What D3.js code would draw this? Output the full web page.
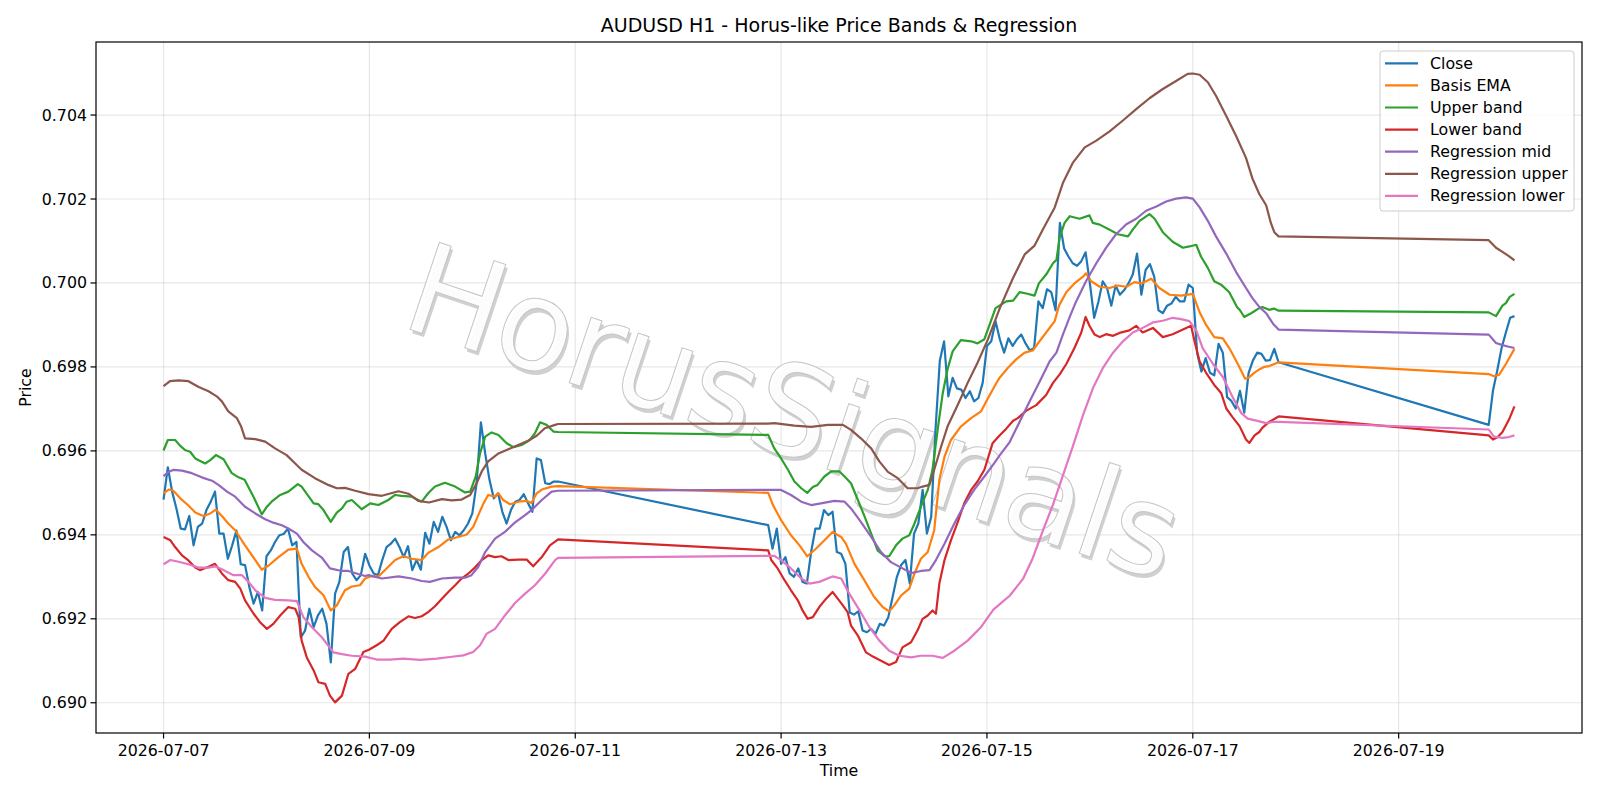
<!DOCTYPE html>
<html>
<head>
<meta charset="utf-8">
<script src="https://cdn.jsdelivr.net/npm/d3@7/dist/d3.min.js"></script>
<style>
  body { margin: 0; background: #fff; }
  svg { font-family: "DejaVu Sans", sans-serif; }
</style>
</head>
<body>
<svg id="chart" width="1600" height="800"></svg>
<script>
// hourly bars, hours counted from 2026-07-07 00:00 UTC
const startTime = Date.UTC(2026, 6, 7, 0, 0);

// Close, three trading blocks (start hour + hourly closes)
const closeStart1 = 0;
const closeSeg1 = [0.69484,0.69561,0.69503,0.69463,0.69415,0.69413,0.69445,0.69375,0.69419,0.69427,
  0.69459,0.69479,0.69503,0.69403,0.69403,0.69343,0.69375,0.69410,0.69330,0.69328,
  0.69276,0.69236,0.69264,0.69220,0.69349,0.69363,0.69383,0.69399,0.69402,0.69415,
  0.69375,0.69383,0.69156,0.69172,0.69224,0.69180,0.69208,0.69224,0.69188,0.69096,
  0.69260,0.69288,0.69359,0.69371,0.69308,0.69292,0.69304,0.69355,0.69327,0.69308,
  0.69304,0.69340,0.69371,0.69379,0.69391,0.69371,0.69347,0.69373,0.69316,0.69340,
  0.69317,0.69405,0.69379,0.69431,0.69407,0.69443,0.69419,0.69387,0.69407,0.69399,
  0.69411,0.69427,0.69451,0.69523,0.69668,0.69594,0.69531,0.69487,0.69499,0.69455,
  0.69427,0.69459,0.69479,0.69483,0.69497,0.69475,0.69455,0.69582,0.69578,0.69523,
  0.69521,0.69527,0.69527];
const closeStart2 = 141;
const closeSeg2 = [0.69423,0.69367,0.69415,0.69331,0.69347,0.69308,0.69300,0.69320,0.69288,0.69284,
  0.69359,0.69415,0.69415,0.69459,0.69447,0.69455,0.69359,0.69355,0.69331,0.69215,
  0.69210,0.69218,0.69172,0.69168,0.69176,0.69164,0.69188,0.69184,0.69204,0.69252,
  0.69300,0.69328,0.69340,0.69284,0.69403,0.69427,0.69507,0.69403,0.69443,0.69650,
  0.69814,0.69861,0.69730,0.69774,0.69749,0.69746,0.69726,0.69742,0.69718,0.69726,
  0.69762,0.69850,0.69861,0.69909,0.69866,0.69834,0.69868,0.69850,0.69866,0.69877,
  0.69856,0.69839,0.69845,0.69956,0.69940,0.69985,0.69978,0.69935,0.70143,0.70082,
  0.70063,0.70047,0.70041,0.70052,0.70073,0.69999,0.69917,0.69956,0.70004,0.69988,
  0.69946,0.69994,0.69972,0.69983,0.69999,0.70020,0.70070,0.69972,0.70031,0.70045,
  0.70015,0.69935,0.69928,0.69946,0.69951,0.69967,0.69956,0.69956,0.69996,0.69988,
  0.69834,0.69789,0.69821,0.69786,0.69780,0.69855,0.69834,0.69728,0.69719,0.69701,
  0.69743,0.69691,0.69785,0.69815,0.69834,0.69831,0.69815,0.69816,0.69843,0.69811];
const closeStart3 = 309;
const closeSeg3 = [0.69662,0.69744,0.69792,0.69845,0.69882,0.69917,0.69921];

// the smoother series, read as [hour, price]
const basisEma = [[0,0.69499],[1.2,0.69508],[2.3,0.69505],[3.9,0.69487],[5.8,0.6947],[7.4,0.69453],[9.3,0.69445],[10.9,0.69451],[12.2,0.6946],[13.6,0.69445],[15.1,0.69427],[16.7,0.69411],[19,0.69375],[21.4,0.6934],[22.9,0.69317],[24.5,0.69327],[26.8,0.69347],[29.1,0.69365],[31.1,0.69367],[32.2,0.69331],[33.8,0.693],[35.3,0.69276],[37.3,0.69256],[39,0.6922],[40.4,0.69232],[42.3,0.69268],[43.9,0.69277],[45.8,0.6928],[47,0.69296],[48.2,0.69301],[50.1,0.69301],[52,0.6932],[54,0.6934],[55.9,0.69349],[57.9,0.69343],[60.2,0.6934],[61.7,0.69357],[64.1,0.69371],[66.4,0.69389],[68.7,0.69395],[70.7,0.69401],[72.2,0.69419],[73.4,0.69447],[74.6,0.69475],[75.7,0.69495],[77.3,0.69491],[78.1,0.69499],[79.2,0.69483],[80.8,0.69473],[82.7,0.69479],[84.7,0.69481],[85.8,0.69476],[87,0.69499],[88.2,0.69508],[90.5,0.69515],[92,0.69516],
  [141,0.695],[142.1,0.69471],[144,0.69435],[146.3,0.69399],[148.3,0.69375],[150.1,0.69349],[151.8,0.69364],[153.7,0.69383],[156,0.69407],[158,0.69395],[159.1,0.69379],[161.1,0.69331],[163.4,0.69292],[165.7,0.69252],[167.7,0.69228],[169.2,0.69218],[170.4,0.69232],[172,0.69256],[173.9,0.69272],[175.1,0.69308],[176.6,0.69343],[178.2,0.69359],[179.7,0.69411],[180.9,0.69531],[182.1,0.69586],[183.6,0.69626],[185.9,0.69658],[188.3,0.69678],[190.6,0.69694],[192.2,0.69725],[194.1,0.6976],[195,0.69775],[196.9,0.69798],[198.8,0.69818],[200.8,0.69834],[202.7,0.69839],[203.8,0.69855],[205.8,0.69882],[207.8,0.69909],[208.8,0.69946],[210.5,0.69978],[212.4,0.69999],[214.4,0.70015],[215.1,0.70023],[216.3,0.70004],[218.3,0.69991],[220.6,0.69988],[222.5,0.69994],[224.5,0.69991],[226.4,0.70002],[228,0.69999],[230.3,0.7001],[232.2,0.69988],[234.6,0.69972],[237.3,0.6997],[240,0.69974],[241.6,0.6993],[243.1,0.699],[245,0.69871],[247,0.69868],[248.5,0.69845],[250.5,0.69807],[252.2,0.69772],[253.1,0.69775],[254.3,0.69786],[255.5,0.69794],[256.6,0.698],[257.8,0.69802],[259,0.69807],[260,0.69811],
  [309,0.69783],[310.2,0.69778],[311.4,0.69781],[313,0.69807],[315,0.69843]];

const upperBand = [[0,0.69601],[1,0.69626],[2.7,0.69626],[3.9,0.69612],[5,0.69602],[6.2,0.69598],[7.4,0.69582],[9.7,0.6957],[10.9,0.69578],[12.2,0.6959],[14,0.6958],[15.9,0.69547],[17.5,0.69537],[18.9,0.69531],[21,0.6949],[22.9,0.69449],[24.1,0.69467],[25.2,0.69479],[27.2,0.69495],[29.1,0.69503],[31.3,0.69521],[32.2,0.69515],[35,0.69475],[36.1,0.69473],[37.3,0.69459],[39,0.69431],[40.4,0.69453],[41.6,0.69463],[42.7,0.69479],[43.9,0.69483],[45.6,0.69467],[46.2,0.69461],[48.2,0.69475],[50.1,0.69471],[52.4,0.69483],[54,0.69495],[55.5,0.69493],[57.9,0.69491],[60.2,0.69479],[61.7,0.69499],[63.3,0.69515],[65.6,0.69524],[68,0.69515],[70.3,0.69501],[71.5,0.69503],[72.8,0.69539],[73.8,0.69594],[75,0.69634],[76.5,0.69644],[78.1,0.69638],[80,0.69618],[81.6,0.69609],[83.5,0.69614],[85.4,0.69626],[86.6,0.69642],[87.8,0.69668],[89.3,0.69662],[90.9,0.69646],[92,0.69645],
  [141,0.69638],[142.4,0.69606],[144,0.69582],[145.6,0.69555],[147.1,0.69527],[148.7,0.69511],[150.1,0.695],[151.4,0.69514],[152.5,0.69519],[154.1,0.69539],[155.7,0.69551],[157.6,0.69551],[158.8,0.69539],[160.3,0.69523],[161.9,0.69483],[163.5,0.69443],[165,0.69403],[166.5,0.69363],[168.1,0.69349],[169.2,0.69349],[170.8,0.69375],[172.3,0.69391],[173.9,0.69399],[175.1,0.69427],[176.6,0.69467],[178.2,0.69507],[179.3,0.69555],[180.5,0.6965],[181.7,0.69738],[182.8,0.69794],[184,0.69837],[185.9,0.69864],[188.3,0.69861],[189.8,0.69856],[191.4,0.69866],[192.2,0.69889],[194,0.6994],[196.5,0.69956],[198.1,0.69958],[199.6,0.69978],[201.2,0.69975],[203.1,0.6997],[204.1,0.69999],[205.8,0.7002],[207.4,0.70047],[208.2,0.70055],[209,0.70111],[210.1,0.70143],[211.3,0.70159],[213.6,0.70153],[215.9,0.70161],[216.7,0.70143],[218.3,0.70139],[220.6,0.70127],[222.5,0.70116],[224.9,0.70111],[226,0.70127],[227.6,0.70148],[229.9,0.70164],[231.1,0.70153],[233,0.70121],[235.3,0.70098],[237.7,0.70084],[239.2,0.70087],[240.8,0.70091],[241.9,0.70063],[243.5,0.70036],[245,0.70004],[246.6,0.69996],[248.5,0.69978],[250.3,0.69943],[251,0.69935],[252,0.69919],[253.6,0.69928],[255.5,0.6994],[256.2,0.69943],[257.8,0.69936],[258.9,0.69939],[260,0.69934],
  [309,0.6993],[310.7,0.69921],[312.2,0.69946],[313,0.69952],[313.9,0.69967],[315,0.69974]];

const lowerBand = [[0,0.69395],[1.6,0.69387],[2.7,0.69371],[4.3,0.69351],[5.8,0.69339],[7.4,0.69322],[8.5,0.69316],[10.5,0.69324],[12,0.69331],[13.6,0.69308],[15.1,0.69292],[16.7,0.69288],[17.9,0.69272],[19,0.69244],[21,0.69212],[22.5,0.69192],[24.1,0.69176],[25.6,0.69188],[27.2,0.69208],[29.1,0.69228],[30.7,0.69224],[31.5,0.69204],[32.2,0.69148],[33.4,0.69108],[35,0.69077],[36.1,0.69049],[37.7,0.69045],[38.8,0.69017],[40,0.69001],[41.6,0.69017],[43.1,0.69069],[44.7,0.69081],[46.6,0.69121],[48,0.69127],[49.7,0.69137],[51.3,0.69148],[53.2,0.69176],[55.1,0.69192],[57.1,0.69206],[58.6,0.69202],[60.2,0.69206],[61.7,0.69216],[63.3,0.6923],[64.9,0.69248],[66.4,0.69264],[68,0.6928],[69.5,0.69296],[71.1,0.69308],[72.6,0.69322],[74.2,0.6934],[75.7,0.69351],[77.3,0.69347],[78.8,0.69349],[80.4,0.6934],[82.7,0.69341],[84.7,0.69341],[86.2,0.69325],[88.2,0.69347],[90.1,0.69375],[92,0.69389],
  [141,0.69363],[141.7,0.6934],[143.2,0.6932],[144.8,0.69292],[146.3,0.69268],[147.9,0.69244],[149,0.6922],[150.2,0.692],[151.4,0.69204],[152.9,0.69228],[154.5,0.69248],[156,0.69264],[157.2,0.69248],[158.4,0.69232],[159.5,0.69216],[160.3,0.69184],[161.9,0.6916],[163.8,0.6912],[165.4,0.6911],[167.3,0.691],[169.2,0.6909],[170.8,0.69097],[172.3,0.69132],[174.3,0.69144],[175.8,0.69172],[177,0.692],[178.2,0.69208],[179.3,0.6922],[180.1,0.69212],[180.9,0.69284],[182.1,0.6934],[183.6,0.69387],[185.2,0.69431],[186.7,0.69475],[188.3,0.69507],[189.8,0.69527],[191.4,0.69555],[193.3,0.69618],[195,0.69637],[196.5,0.69653],[198.1,0.69672],[199.2,0.69678],[201.2,0.69696],[203.5,0.69709],[205.8,0.69733],[207.4,0.69762],[209,0.69783],[210.5,0.69807],[212.4,0.69845],[214,0.69882],[215,0.69919],[215.9,0.69898],[217.1,0.69877],[218.3,0.69871],[219.8,0.69878],[221.4,0.69874],[222.9,0.69881],[225.2,0.69887],[226.8,0.69898],[228.3,0.69882],[230.7,0.69893],[233,0.69871],[235.3,0.69878],[237.7,0.69889],[239.6,0.69898],[240.4,0.69861],[241.6,0.69813],[243.1,0.69786],[245,0.69757],[246.6,0.69738],[247.8,0.69701],[249.3,0.6968],[250.9,0.69659],[252.4,0.69627],[253.2,0.69619],[254.4,0.69637],[255.5,0.69645],[256.2,0.69655],[257.8,0.69669],[260,0.69682],
  [309,0.69637],[310,0.69627],[311.1,0.69633],[312.2,0.69645],[313.7,0.69674],[315,0.69706]];

const regMid = [[0,0.6954],[1.2,0.6955],[2.3,0.69555],[4.3,0.69553],[6.6,0.69547],[8.9,0.69537],[11.3,0.69529],[12.8,0.69519],[14.8,0.69503],[16.7,0.69491],[19,0.69467],[21.4,0.69451],[23.7,0.69437],[25.6,0.69429],[27.6,0.69423],[29.1,0.69415],[31.1,0.69403],[32.6,0.69383],[34.6,0.69363],[36.9,0.69346],[38.8,0.6932],[41.6,0.69314],[43.1,0.69314],[45,0.69308],[47,0.69302],[47.8,0.69304],[50.9,0.69296],[54.8,0.69301],[57.9,0.69296],[60.2,0.6929],[62.1,0.69288],[64.9,0.69296],[68,0.69298],[70.3,0.69298],[71.8,0.69304],[73.4,0.69324],[75,0.69359],[77.3,0.69391],[79.6,0.69407],[81.9,0.69429],[84.3,0.69447],[85.8,0.69459],[88.2,0.69483],[90.5,0.69503],[92,0.69505],
  [141,0.69507],[144,0.69507],[146.3,0.69495],[148.7,0.69479],[151,0.69471],[153.3,0.69475],[156.4,0.69481],[158.8,0.69479],[160.3,0.69463],[162.6,0.69431],[165,0.69395],[167.3,0.69359],[169.6,0.69335],[172,0.69322],[174.3,0.69309],[176.6,0.69314],[178.6,0.69316],[180.1,0.6934],[182.1,0.69379],[184.4,0.69427],[186.7,0.69471],[189,0.69507],[191.4,0.69539],[193.7,0.69571],[195,0.6959],[197.3,0.69621],[199.6,0.69669],[201.9,0.69717],[204.3,0.69765],[206.6,0.69813],[208.2,0.69834],[209.7,0.69877],[211.3,0.69919],[212.8,0.69956],[215.1,0.70004],[217.5,0.70047],[219.8,0.70084],[222.1,0.70116],[224.5,0.7014],[226.8,0.70153],[229.1,0.70172],[231.5,0.70182],[233.8,0.70194],[236.1,0.70201],[238.4,0.70204],[240,0.70201],[241.6,0.7018],[243.5,0.70148],[245.4,0.70111],[247.8,0.7007],[250.1,0.70026],[252.4,0.69988],[253.9,0.69964],[255.5,0.69943],[257.1,0.69928],[258.7,0.69903],[260,0.69889],
  [309,0.69877],[310.7,0.69857],[312.2,0.69852],[313.7,0.69848],[315,0.69845]];

const regUpper = [[0,0.69754],[1.5,0.69766],[3.5,0.69768],[5.8,0.69766],[8.2,0.69752],[10.5,0.69742],[12.4,0.6973],[13.6,0.69718],[15.1,0.69694],[17.1,0.69678],[18.1,0.69658],[19,0.6963],[21.4,0.69628],[23.7,0.69622],[26,0.69606],[28.7,0.6959],[30.7,0.6957],[32.2,0.69555],[35.3,0.69535],[38.4,0.69519],[40.4,0.69511],[42.3,0.69512],[44.7,0.69505],[47.8,0.69497],[50.9,0.69493],[54.8,0.69504],[57.1,0.69498],[59.4,0.69481],[61.9,0.69477],[64.9,0.69485],[67.2,0.69482],[69.5,0.69484],[71.5,0.69495],[73,0.69523],[74.2,0.69551],[75.7,0.69575],[78.1,0.69594],[80.4,0.69604],[82.7,0.69614],[85,0.69624],[87,0.69636],[88.9,0.69654],[91.3,0.69662],[92,0.69664],
  [141,0.69665],[142.4,0.69666],[147.1,0.6966],[151,0.69657],[154.9,0.69662],[158.4,0.69662],[160.3,0.6965],[162.6,0.6963],[165,0.69606],[166.9,0.69575],[168.9,0.6955],[171.2,0.69535],[173.5,0.69511],[175.8,0.69511],[177,0.69515],[178.6,0.69519],[179.7,0.69555],[181.3,0.6961],[182.8,0.69658],[185.2,0.6971],[187.5,0.69762],[189.8,0.6981],[192.2,0.69865],[195,0.6994],[198,0.7001],[200.8,0.70068],[203.1,0.70089],[205,0.70127],[207.8,0.7018],[209.7,0.70238],[212,0.70286],[214.8,0.70323],[217.5,0.70339],[220.6,0.70361],[223.7,0.70387],[226.8,0.70414],[229.9,0.7044],[233,0.70462],[236.1,0.70481],[238.8,0.70498],[240,0.70499],[241.6,0.70496],[243.5,0.70478],[245.4,0.70446],[247.8,0.70398],[250.1,0.7035],[252.4,0.70298],[253.9,0.70249],[255.5,0.70212],[257.1,0.70185],[258.2,0.70143],[259,0.70121],[260,0.70111],
  [309,0.70102],[310.7,0.70084],[312.2,0.70074],[313.7,0.70064],[315,0.70054]];

const regLower = [[0,0.6933],[1.6,0.6934],[3.5,0.69336],[5.8,0.6933],[8.2,0.69322],[10.5,0.69322],[12,0.69325],[14,0.69316],[16.3,0.69304],[18.3,0.69304],[19.8,0.69288],[21.4,0.69268],[23.7,0.6925],[26,0.69245],[29.1,0.69244],[31.1,0.69242],[32.6,0.69204],[34.6,0.6918],[36.9,0.69156],[38.4,0.69136],[39.6,0.6912],[41.6,0.69116],[43.9,0.69112],[47,0.6911],[49.7,0.69103],[52.8,0.69103],[55.9,0.69105],[59.8,0.69102],[63.7,0.69105],[66.8,0.69109],[69.9,0.69113],[72.2,0.69121],[73.8,0.69137],[75.3,0.69164],[77.3,0.69176],[79.6,0.69208],[81.9,0.69237],[84.3,0.6926],[86.6,0.6928],[89,0.69308],[91.3,0.6934],[92,0.69345],
  [141,0.6935],[142.4,0.6935],[144,0.6934],[146.3,0.6932],[148.7,0.69296],[150.6,0.69284],[152.9,0.69288],[156,0.69301],[158,0.69296],[159.9,0.6926],[162.3,0.6922],[164.6,0.6918],[166.9,0.69148],[169.2,0.69124],[171.6,0.69112],[174.3,0.69108],[176.6,0.69112],[179.3,0.69112],[181.7,0.69107],[184.4,0.69124],[187.5,0.69148],[190.6,0.6918],[193.5,0.69222],[195,0.69235],[197.3,0.69255],[200.4,0.69295],[202.7,0.69345],[205,0.69409],[207.4,0.69472],[209.7,0.69541],[212,0.6961],[214.4,0.69685],[216.7,0.69749],[219,0.69797],[221.4,0.69834],[223.7,0.69861],[226,0.69882],[228.3,0.69893],[230.7,0.69906],[233,0.6991],[235.3,0.69917],[237.3,0.69914],[239.2,0.69909],[240.8,0.69887],[242.3,0.69845],[244.7,0.69807],[247,0.69776],[249.3,0.69728],[251.3,0.6969],[252.8,0.69677],[254.8,0.69672],[257.1,0.69666],[258.7,0.69669],[260,0.69669],
  [309,0.69651],[310.2,0.69634],[312.2,0.69631],[313.7,0.69633],[315,0.69637]];

const seriesNames = ["Close", "Basis EMA", "Upper band", "Lower band", "Regression mid", "Regression upper", "Regression lower"];
const seriesColors = ["#1f77b4", "#ff7f0e", "#2ca02c", "#d62728", "#9467bd", "#8c564b", "#e377c2"];
const yTicks = [0.690, 0.692, 0.694, 0.696, 0.698, 0.700, 0.702, 0.704];
const xTicks = ["2026-07-07", "2026-07-09", "2026-07-11", "2026-07-13", "2026-07-15", "2026-07-17", "2026-07-19"];

const titleText = "AUDUSD H1 - Horus-like Price Bands & Regression";
const watermark = "HorusSignals";

// ---- layout
const svg = d3.select("#chart");
const m = { left: 96, right: 1582, top: 42, bottom: 733 };
const fs = 15.8; // 10pt at this figure's dpi

const hourDate = h => new Date(startTime + h * 3600e3);
const tickDate = d => new Date(d + "T00:00Z");

const x = d3.scaleUtc()
    .domain([hourDate(-15.75), hourDate(330.75)])
    .range([m.left, m.right]);
const y = d3.scaleLinear()
    .domain([0.68928, 0.70574])
    .range([m.bottom, m.top]);

const segPairs = (start, vals) => vals.map((v, i) => [start + i, v]);
const closeData = [].concat(
    segPairs(closeStart1, closeSeg1),
    segPairs(closeStart2, closeSeg2),
    segPairs(closeStart3, closeSeg3));

const allSeries = [closeData, basisEma, upperBand, lowerBand, regMid, regUpper, regLower];

// grid
const grid = svg.append("g").attr("stroke", "#b0b0b0").attr("stroke-opacity", 0.3).attr("stroke-width", 1.2);
grid.selectAll(".gy").data(yTicks).enter().append("line")
    .attr("x1", m.left).attr("x2", m.right)
    .attr("y1", d => y(d)).attr("y2", d => y(d));
grid.selectAll(".gx").data(xTicks).enter().append("line")
    .attr("x1", d => x(tickDate(d))).attr("x2", d => x(tickDate(d)))
    .attr("y1", m.top).attr("y2", m.bottom);

// watermark
const wm = svg.append("g")
    .attr("transform", "translate(794,412) rotate(18.5)")
    .style("font-size", "126px");
wm.append("text")
    .attr("x", 3).attr("y", 3)
    .attr("text-anchor", "middle").attr("dominant-baseline", "central")
    .attr("textLength", 805).attr("lengthAdjust", "spacing")
    .attr("fill", "#d0d0d0")
    .text(watermark);
wm.append("text")
    .attr("text-anchor", "middle").attr("dominant-baseline", "central")
    .attr("textLength", 805).attr("lengthAdjust", "spacing")
    .attr("fill", "#ffffff").attr("fill-opacity", 0.92)
    .attr("stroke", "#c6c6c6").attr("stroke-width", 1)
    .text(watermark);

// lines
const line = d3.line()
    .x(d => x(hourDate(d[0])))
    .y(d => y(d[1]));

svg.append("g").selectAll("path")
    .data(allSeries)
    .enter()
    .append("path")
    .attr("d", d => line(d))
    .attr("fill", "none")
    .attr("stroke", (d, i) => seriesColors[i])
    .attr("stroke-width", 2.2)
    .attr("stroke-linejoin", "round");

// frame
svg.append("rect")
    .attr("x", m.left).attr("y", m.top)
    .attr("width", m.right - m.left).attr("height", m.bottom - m.top)
    .attr("fill", "none").attr("stroke", "#000").attr("stroke-width", 1.2);

// axes
const yAxis = svg.append("g");
yAxis.selectAll("line").data(yTicks).enter().append("line")
    .attr("x1", m.left - 5.5).attr("x2", m.left)
    .attr("y1", d => y(d)).attr("y2", d => y(d))
    .attr("stroke", "#000").attr("stroke-width", 1.2);
yAxis.selectAll("text").data(yTicks).enter().append("text")
    .attr("x", m.left - 9).attr("y", d => y(d))
    .attr("text-anchor", "end").attr("dominant-baseline", "central")
    .style("font-size", fs + "px")
    .text(d => d3.format(".3f")(d));

const xAxis = svg.append("g");
xAxis.selectAll("line").data(xTicks).enter().append("line")
    .attr("x1", d => x(tickDate(d))).attr("x2", d => x(tickDate(d)))
    .attr("y1", m.bottom).attr("y2", m.bottom + 5.5)
    .attr("stroke", "#000").attr("stroke-width", 1.2);
xAxis.selectAll("text").data(xTicks).enter().append("text")
    .attr("x", d => x(tickDate(d))).attr("y", m.bottom + 23)
    .attr("text-anchor", "middle")
    .style("font-size", fs + "px")
    .text(d => d);

svg.append("text")
    .attr("x", (m.left + m.right) / 2).attr("y", 776)
    .attr("text-anchor", "middle").style("font-size", fs + "px")
    .text("Time");
svg.append("text")
    .attr("transform", `translate(31,${(m.top + m.bottom) / 2}) rotate(-90)`)
    .attr("text-anchor", "middle").style("font-size", fs + "px")
    .text("Price");

svg.append("text")
    .attr("x", (m.left + m.right) / 2).attr("y", 32)
    .attr("text-anchor", "middle").style("font-size", "19px")
    .text(titleText);

// legend
const leg = svg.append("g").attr("transform", "translate(1380,51)");
leg.append("rect")
    .attr("width", 194).attr("height", 160).attr("rx", 3)
    .attr("fill", "#fff").attr("fill-opacity", 0.8)
    .attr("stroke", "#cccccc").attr("stroke-width", 1);
const rows = leg.selectAll(".row").data(seriesNames).enter().append("g")
    .attr("transform", (d, i) => `translate(0,${12.3 + i * 22.1})`);
rows.append("line")
    .attr("x1", 5).attr("x2", 38)
    .attr("stroke", (d, i) => seriesColors[i]).attr("stroke-width", 2.2);
rows.append("text")
    .attr("x", 50).attr("dominant-baseline", "central")
    .style("font-size", fs + "px")
    .text(d => d);
</script>
</body>
</html>
